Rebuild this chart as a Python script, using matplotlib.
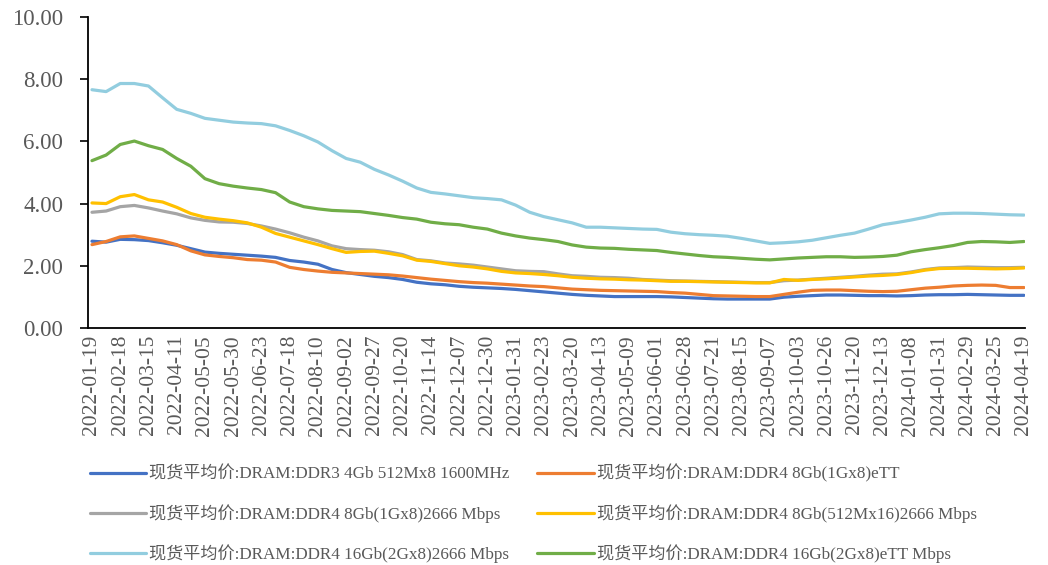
import matplotlib
matplotlib.use("Agg")
import matplotlib.pyplot as plt
import numpy as np

# Tick dates (every second sample point on the category axis).
tick_dates = [
    "2022-01-19", "2022-02-18", "2022-03-15", "2022-04-11", "2022-05-05", "2022-05-30",
    "2022-06-23", "2022-07-18", "2022-08-10", "2022-09-02", "2022-09-27", "2022-10-20",
    "2022-11-14", "2022-12-07", "2022-12-30", "2023-01-31", "2023-02-23", "2023-03-20",
    "2023-04-13", "2023-05-09", "2023-06-01", "2023-06-28", "2023-07-21", "2023-08-15",
    "2023-09-07", "2023-10-03", "2023-10-26", "2023-11-20", "2023-12-13", "2024-01-08",
    "2024-01-31", "2024-02-29", "2024-03-25", "2024-04-19",
]

# Spot prices at half-tick spacing.
ddr3_4gb = [
    2.79, 2.76, 2.85, 2.84, 2.81, 2.74, 2.66, 2.55, 2.44, 2.40, 2.37, 2.34, 2.31, 2.27,
    2.17, 2.12, 2.05, 1.88, 1.78, 1.72, 1.66, 1.62, 1.56, 1.47, 1.42, 1.39, 1.34, 1.31,
    1.29, 1.27, 1.24, 1.20, 1.16, 1.12, 1.08, 1.05, 1.03, 1.01, 1.01, 1.01, 1.01, 1.00,
    0.98, 0.96, 0.94, 0.93, 0.93, 0.93, 0.93, 0.99, 1.02, 1.04, 1.06, 1.06, 1.05, 1.04,
    1.04, 1.03, 1.04, 1.06, 1.07, 1.07, 1.08, 1.07, 1.06, 1.05, 1.05,
]
ddr4_8gb_ett = [
    2.68, 2.78, 2.93, 2.96, 2.88, 2.80, 2.68, 2.48, 2.35, 2.30, 2.26, 2.20, 2.18, 2.12,
    1.95, 1.88, 1.83, 1.79, 1.77, 1.75, 1.73, 1.71, 1.67, 1.62, 1.57, 1.53, 1.49, 1.46,
    1.44, 1.41, 1.38, 1.35, 1.33, 1.29, 1.25, 1.23, 1.21, 1.20, 1.19, 1.18, 1.17, 1.14,
    1.12, 1.08, 1.04, 1.03, 1.02, 1.01, 1.01, 1.08, 1.15, 1.21, 1.22, 1.22, 1.20, 1.18,
    1.17, 1.18, 1.23, 1.28, 1.31, 1.35, 1.37, 1.38, 1.37, 1.30, 1.30,
]
ddr4_8gb_1gx8 = [
    3.72, 3.76, 3.90, 3.94, 3.86, 3.76, 3.67, 3.54, 3.46, 3.41, 3.40, 3.36, 3.28, 3.18,
    3.06, 2.92, 2.80, 2.64, 2.55, 2.52, 2.50, 2.45, 2.36, 2.20, 2.16, 2.09, 2.06, 2.02,
    1.96, 1.90, 1.84, 1.82, 1.81, 1.74, 1.68, 1.66, 1.63, 1.62, 1.60, 1.56, 1.54, 1.52,
    1.51, 1.50, 1.49, 1.48, 1.47, 1.46, 1.46, 1.52, 1.54, 1.57, 1.60, 1.63, 1.66, 1.70,
    1.73, 1.74, 1.80, 1.88, 1.93, 1.94, 1.96, 1.95, 1.94, 1.94, 1.95,
]
ddr4_8gb_512mx16 = [
    4.02, 4.00, 4.22, 4.29, 4.12, 4.05, 3.88, 3.68, 3.56, 3.50, 3.45, 3.38, 3.24, 3.04,
    2.92, 2.80, 2.68, 2.55, 2.43, 2.46, 2.47, 2.40, 2.32, 2.18, 2.14, 2.07, 2.00, 1.96,
    1.90, 1.82, 1.77, 1.75, 1.72, 1.68, 1.63, 1.60, 1.58, 1.57, 1.55, 1.54, 1.52, 1.50,
    1.50, 1.49, 1.48, 1.47, 1.46, 1.45, 1.45, 1.56, 1.53, 1.56, 1.58, 1.61, 1.64, 1.67,
    1.69, 1.72, 1.78, 1.86, 1.91, 1.92, 1.92, 1.91, 1.90, 1.91, 1.93,
]
ddr4_16gb_2666 = [
    7.66, 7.60, 7.86, 7.86, 7.78, 7.40, 7.03, 6.90, 6.74, 6.68, 6.62, 6.59, 6.57, 6.50,
    6.35, 6.18, 5.98, 5.70, 5.45, 5.33, 5.10, 4.92, 4.72, 4.50, 4.36, 4.31, 4.25, 4.19,
    4.16, 4.12, 3.95, 3.72, 3.58, 3.48, 3.38, 3.24, 3.24, 3.22, 3.20, 3.18, 3.17, 3.08,
    3.03, 3.00, 2.98, 2.95, 2.88, 2.80, 2.72, 2.74, 2.77, 2.82, 2.90, 2.98, 3.05, 3.18,
    3.32, 3.39, 3.47, 3.56, 3.67, 3.69, 3.69, 3.68, 3.66, 3.64, 3.63,
]
ddr4_16gb_ett = [
    5.38, 5.56, 5.90, 6.01, 5.86, 5.74, 5.45, 5.20, 4.80, 4.64, 4.56, 4.50, 4.45, 4.35,
    4.05, 3.90, 3.83, 3.78, 3.76, 3.74, 3.68, 3.62, 3.55, 3.50, 3.40, 3.35, 3.32, 3.24,
    3.18, 3.05, 2.96, 2.89, 2.84, 2.78, 2.67, 2.60, 2.57, 2.56, 2.53, 2.51, 2.49, 2.43,
    2.38, 2.33, 2.29, 2.27, 2.24, 2.21, 2.19, 2.22, 2.25, 2.27, 2.29, 2.29, 2.27, 2.28,
    2.30, 2.34, 2.45, 2.52, 2.58, 2.65, 2.75, 2.78, 2.77, 2.75, 2.78,
]

series_labels = [
    "现货平均价:DRAM:DDR3 4Gb 512Mx8 1600MHz",
    "现货平均价:DRAM:DDR4 8Gb(1Gx8)eTT",
    "现货平均价:DRAM:DDR4 8Gb(1Gx8)2666 Mbps",
    "现货平均价:DRAM:DDR4 8Gb(512Mx16)2666 Mbps",
    "现货平均价:DRAM:DDR4 16Gb(2Gx8)2666 Mbps",
    "现货平均价:DRAM:DDR4 16Gb(2Gx8)eTT Mbps",
]
series_values = [ddr3_4gb, ddr4_8gb_ett, ddr4_8gb_1gx8, ddr4_8gb_512mx16, ddr4_16gb_2666, ddr4_16gb_ett]
series_colors = ["#4472C4", "#ED7D31", "#A5A5A5", "#FFC000", "#92CDDF", "#70AD47"]

FONT = ["Liberation Serif", "Noto Sans CJK SC", "DejaVu Sans"]
plt.rcParams["font.family"] = FONT

fig = plt.figure(figsize=(10.48, 5.65), dpi=100)
ax = fig.add_axes([0.084, 0.4195, 0.894, 0.5505])

x = np.arange(len(ddr3_4gb))
handles = []
for values, label, color in zip(series_values, series_labels, series_colors):
    (line,) = ax.plot(x, values, color=color, linewidth=2.3, label=label, solid_capstyle="round")
    handles.append(line)

ax.set_xlim(-0.28, 66.07)
ax.set_ylim(0, 10)
ax.set_yticks(np.arange(0, 10.01, 2))
ax.set_yticklabels([f"{v:.2f}" for v in np.arange(0, 10.01, 2)])
ax.set_xticks(x[::2])
ax.set_xticklabels(tick_dates, rotation=90)

ax.tick_params(axis="y", length=6, width=1.2, color="black", labelsize=16.5, labelcolor="#595959", pad=12)
ax.tick_params(axis="x", length=0, labelsize=15.5, labelcolor="#595959", pad=5)
for side in ("top", "right"):
    ax.spines[side].set_visible(False)
for side in ("left", "bottom"):
    ax.spines[side].set_color("black")
    ax.spines[side].set_linewidth(1.3)

# Legend is laid out row-wise in the reference: reorder for column-first filling.
order = [0, 2, 4, 1, 3, 5]
fig.legend(
    [handles[i] for i in order],
    [series_labels[i] for i in order],
    loc="upper left",
    bbox_to_anchor=(0.079, 0.19),
    ncol=2,
    frameon=False,
    fontsize=12.3,
    labelcolor="#595959",
    handlelength=3.3,
    handletextpad=0.2,
    labelspacing=1.25,
    columnspacing=1.6,
    borderaxespad=0,
)
fig.savefig("out.png", dpi=100)
